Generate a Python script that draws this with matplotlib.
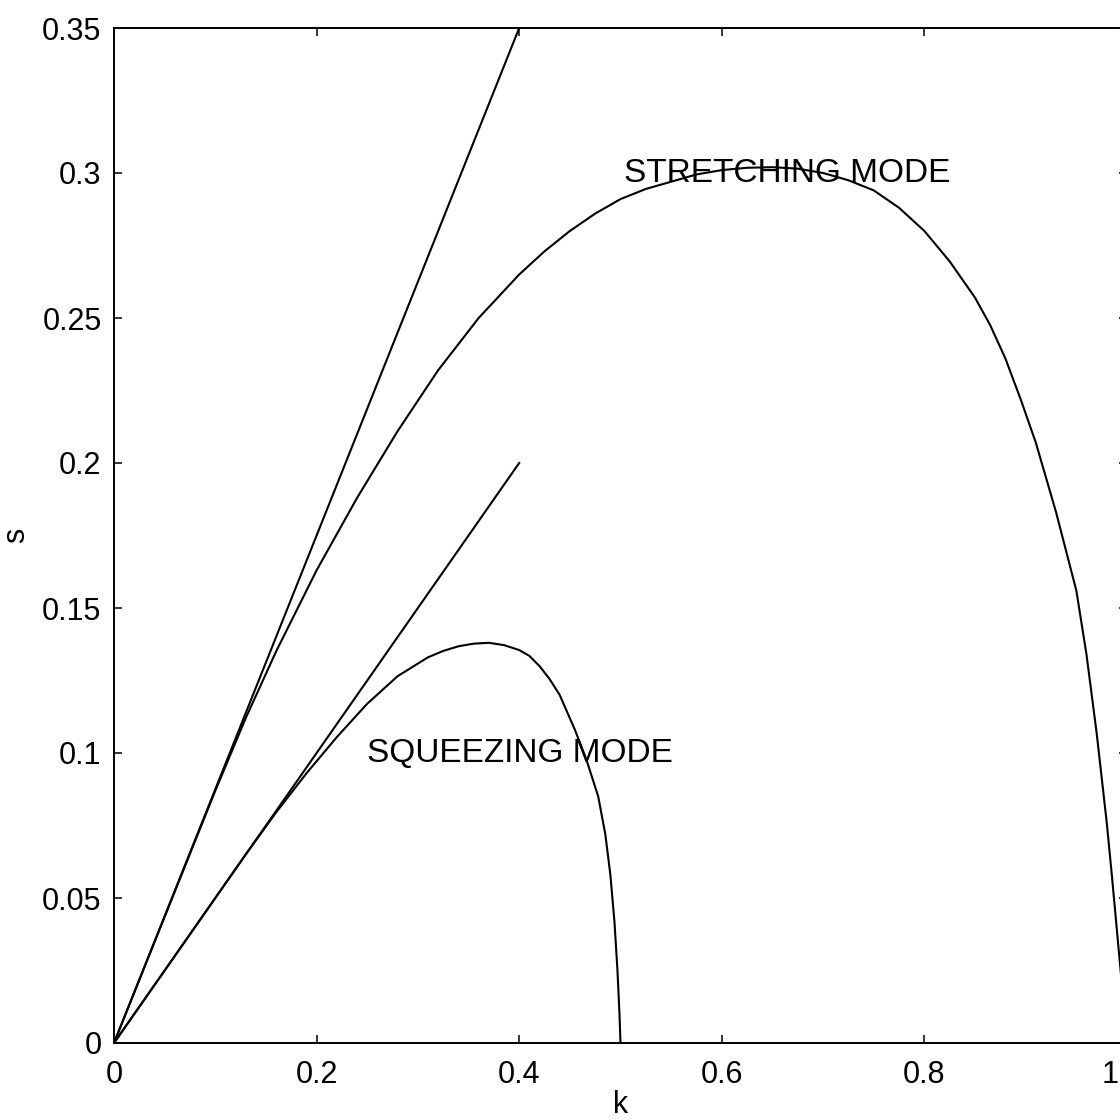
import matplotlib
matplotlib.use("Agg")
import matplotlib.pyplot as plt
from matplotlib.transforms import ScaledTranslation

# growth rate s versus wavenumber k
k_steep = [0.0, 0.4]
s_steep = [0.0, 0.35]

k_lin = [0.0, 0.4]
s_lin = [0.0, 0.2]

k_stretch = [0.0, 0.05, 0.10, 0.13, 0.16, 0.20, 0.24, 0.28, 0.32, 0.36,
             0.40, 0.425, 0.45, 0.475, 0.50, 0.525, 0.55, 0.575, 0.60, 0.625,
             0.65, 0.675, 0.70, 0.725, 0.75, 0.775, 0.80, 0.825, 0.85, 0.865,
             0.88, 0.895, 0.91, 0.93, 0.95, 0.96, 0.97, 0.98, 0.985, 0.99,
             0.995, 1.0]
s_stretch = [0.0, 0.0435, 0.087, 0.112, 0.135, 0.163, 0.188, 0.211, 0.232, 0.250,
             0.265, 0.273, 0.280, 0.286, 0.291, 0.2945, 0.297, 0.2995, 0.301, 0.3018,
             0.302, 0.3015, 0.300, 0.2975, 0.294, 0.288, 0.280, 0.2695, 0.257, 0.2475,
             0.236, 0.222, 0.207, 0.183, 0.156, 0.134, 0.107, 0.076, 0.058, 0.039,
             0.02, 0.0]

k_squeeze = [0.0, 0.05, 0.10, 0.13, 0.16, 0.19, 0.22, 0.25, 0.28, 0.31,
             0.325, 0.34, 0.355, 0.37, 0.385, 0.40, 0.41, 0.42, 0.43, 0.44,
             0.455, 0.467, 0.478, 0.485, 0.49, 0.494, 0.497, 0.499, 0.5]
s_squeeze = [0.0, 0.025, 0.050, 0.065, 0.0795, 0.093, 0.1055, 0.117, 0.1265, 0.133,
             0.1352, 0.1368, 0.1377, 0.138, 0.1372, 0.1355, 0.1335, 0.130, 0.1255, 0.120,
             0.108, 0.097, 0.085, 0.072, 0.058, 0.042, 0.025, 0.010, 0.0]

x_ticks = [0, 0.2, 0.4, 0.6, 0.8, 1.0]
x_labels = ["0", "0.2", "0.4", "0.6", "0.8", "1"]
y_ticks = [0, 0.05, 0.1, 0.15, 0.2, 0.25, 0.3, 0.35]
y_labels = ["0", "0.05", "0.1", "0.15", "0.2", "0.25", "0.3", "0.35"]

plt.rcParams['font.family'] = ['Liberation Sans', 'DejaVu Sans']

fig = plt.figure(figsize=(11.2, 11.2), dpi=100)
ax = fig.add_axes([114 / 1120, 77 / 1120, 1013 / 1120, 1015 / 1120])

lw = 1.5
ax.plot(k_steep, s_steep, color='black', linewidth=lw)
ax.plot(k_lin, s_lin, color='black', linewidth=lw)
ax.plot(k_stretch, s_stretch, color='black', linewidth=lw)
ax.plot(k_squeeze, s_squeeze, color='black', linewidth=lw)

ax.text(0.503, 0.3, "STRETCHING MODE", fontsize=24, ha='left', va='center')
ax.text(0.25, 0.1, "SQUEEZING MODE", fontsize=24, ha='left', va='center')

ax.set_xlim(0, 1)
ax.set_ylim(0, 0.35)
ax.set_xticks(x_ticks)
ax.set_xticklabels(x_labels)
ax.set_yticks(y_ticks)
ax.set_yticklabels(y_labels)
ax.tick_params(direction='in', length=6, width=1.1, labelsize=22,
               top=True, right=True)
ax.tick_params(axis='x', pad=12)
ax.tick_params(axis='y', pad=9)
for sp in ax.spines.values():
    sp.set_linewidth(1.4)

ax.set_xlabel("k", fontsize=22, labelpad=0)
ax.set_ylabel("s", fontsize=22, labelpad=8)

# the last x label sits right at the figure edge, nudge it inside
fig.canvas.draw()
last = ax.get_xticklabels()[-1]
last.set_horizontalalignment('right')
last.set_transform(last.get_transform() + ScaledTranslation(-0.08, 0, fig.dpi_scale_trans))

fig.savefig("out.png", dpi=100)
